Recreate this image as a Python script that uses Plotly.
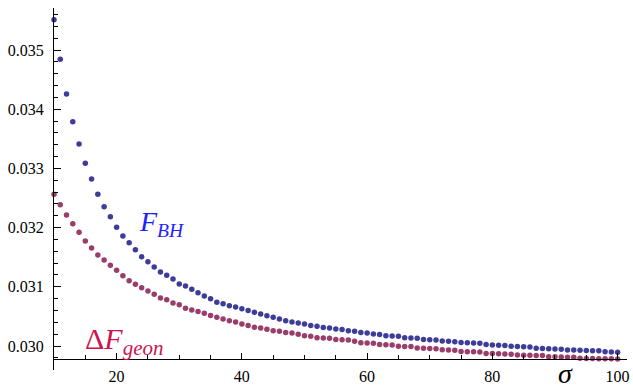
import plotly.graph_objects as go

sigma = list(range(10, 101))

# F_BH values (units of 1e-3 above 0.030)
f_bh_offset = [
    5.512, 4.843, 4.257, 3.789, 3.412, 3.086, 2.821, 2.562, 2.353, 2.184,
    2.005, 1.858, 1.745, 1.627, 1.508, 1.424, 1.334, 1.250, 1.194, 1.132,
    1.047, 1.014, 0.958, 0.900, 0.845, 0.799, 0.738, 0.715, 0.681, 0.659,
    0.630, 0.600, 0.569, 0.541, 0.512, 0.484, 0.456, 0.425, 0.405, 0.390,
    0.372, 0.345, 0.335, 0.313, 0.305, 0.286, 0.278, 0.257, 0.249, 0.229,
    0.221, 0.201, 0.193, 0.174, 0.169, 0.164, 0.140, 0.135, 0.130, 0.112,
    0.107, 0.102, 0.084, 0.079, 0.074, 0.058, 0.054, 0.049, 0.045, 0.024,
    0.019, 0.015, 0.010, -0.005, -0.009, -0.013, -0.017, -0.038, -0.042, -0.045,
    -0.049, -0.053, -0.066, -0.069, -0.072, -0.075, -0.078, -0.081, -0.097, -0.101,
    -0.105,
]

# Delta F_geon values (units of 1e-3 above 0.030)
f_geon_offset = [
    2.562, 2.387, 2.213, 2.066, 1.920, 1.774, 1.655, 1.537, 1.453, 1.363,
    1.279, 1.188, 1.103, 1.042, 0.985, 0.930, 0.873, 0.811, 0.782, 0.726,
    0.698, 0.637, 0.608, 0.585, 0.555, 0.515, 0.484, 0.456, 0.427, 0.405,
    0.372, 0.345, 0.315, 0.305, 0.282, 0.258, 0.250, 0.228, 0.220, 0.197,
    0.172, 0.165, 0.140, 0.135, 0.130, 0.112, 0.107, 0.102, 0.079, 0.056,
    0.051, 0.046, 0.027, 0.022, 0.017, -0.002, -0.006, -0.010, -0.034, -0.036,
    -0.040, -0.044, -0.064, -0.068, -0.072, -0.092, -0.095, -0.098, -0.101, -0.126,
    -0.128, -0.131, -0.134, -0.137, -0.153, -0.155, -0.157, -0.159, -0.161, -0.180,
    -0.183, -0.186, -0.188, -0.190, -0.207, -0.209, -0.211, -0.213, -0.215, -0.217,
    -0.219,
]

f_bh = [0.030 + v * 1e-3 for v in f_bh_offset]
f_geon = [0.030 + v * 1e-3 for v in f_geon_offset]

y_tickvals = [0.030, 0.031, 0.032, 0.033, 0.034, 0.035]
y_ticktext = ["0.030", "0.031", "0.032", "0.033", "0.034", "0.035"]
x_tickvals = [20, 40, 60, 80, 100]

serif = "Liberation Serif, DejaVu Serif, serif"

fig = go.Figure()
fig.add_trace(go.Scatter(
    x=sigma, y=f_bh, mode="markers",
    marker=dict(color="#3d3d99", size=5.5),
    cliponaxis=False, showlegend=False,
))
fig.add_trace(go.Scatter(
    x=sigma, y=f_geon, mode="markers",
    marker=dict(color="#993d6b", size=5.5),
    cliponaxis=False, showlegend=False,
))

ybottom = 0.029595
ytop = 0.0357095
xaxis_pos = (0.02978 - ybottom) / (ytop - ybottom)

fig.update_layout(
    width=633, height=388,
    margin=dict(l=54, r=6, t=8, b=18, autoexpand=False),
    plot_bgcolor="white", paper_bgcolor="white",
    font=dict(family=serif, size=16, color="black"),
    xaxis=dict(
        range=[10, 101.5], anchor="free", position=xaxis_pos,
        showgrid=False, zeroline=False, automargin=False,
        showline=True, linecolor="black", linewidth=1,
        tickvals=x_tickvals, ticks="inside", ticklen=6, tickcolor="black",
        minor=dict(dtick=5, tick0=0, ticks="inside", ticklen=4, tickcolor="black"),
        tickfont=dict(family=serif, size=16, color="black"),
        ticklabelstandoff=3,
    ),
    yaxis=dict(
        range=[ybottom, ytop], automargin=False,
        showgrid=False, zeroline=False,
        showline=True, linecolor="black", linewidth=1,
        tickvals=y_tickvals, ticktext=y_ticktext,
        ticks="inside", ticklen=7, tickcolor="black",
        minor=dict(dtick=0.0002, tick0=0.0296, ticks="inside", ticklen=4, tickcolor="black"),
        tickfont=dict(family=serif, size=16, color="black"),
        ticklabelstandoff=6,
    ),
)

fig.add_annotation(
    x=27.3, y=0.03207, xref="x", yref="y",
    text="<i>F</i><sub><i>BH</i></sub>", showarrow=False,
    font=dict(family=serif, size=28, color="#1f1fff"),
)
fig.add_annotation(
    x=21.2, y=0.03009, xref="x", yref="y",
    text="Δ<i>F</i><sub><i>geon</i></sub>", showarrow=False,
    font=dict(family=serif, size=30, color="#cc1450"),
)
fig.add_annotation(
    x=91.6, y=-0.01, xref="x", yref="paper",
    xanchor="center", yanchor="middle",
    text="<i>σ</i>", showarrow=False,
    font=dict(family=serif, size=28, color="black"),
)

fig.write_html(
    "out.html",
    config={"displayModeBar": False},
    post_script="document.body.style.margin='0';document.body.style.padding='0';",
)
